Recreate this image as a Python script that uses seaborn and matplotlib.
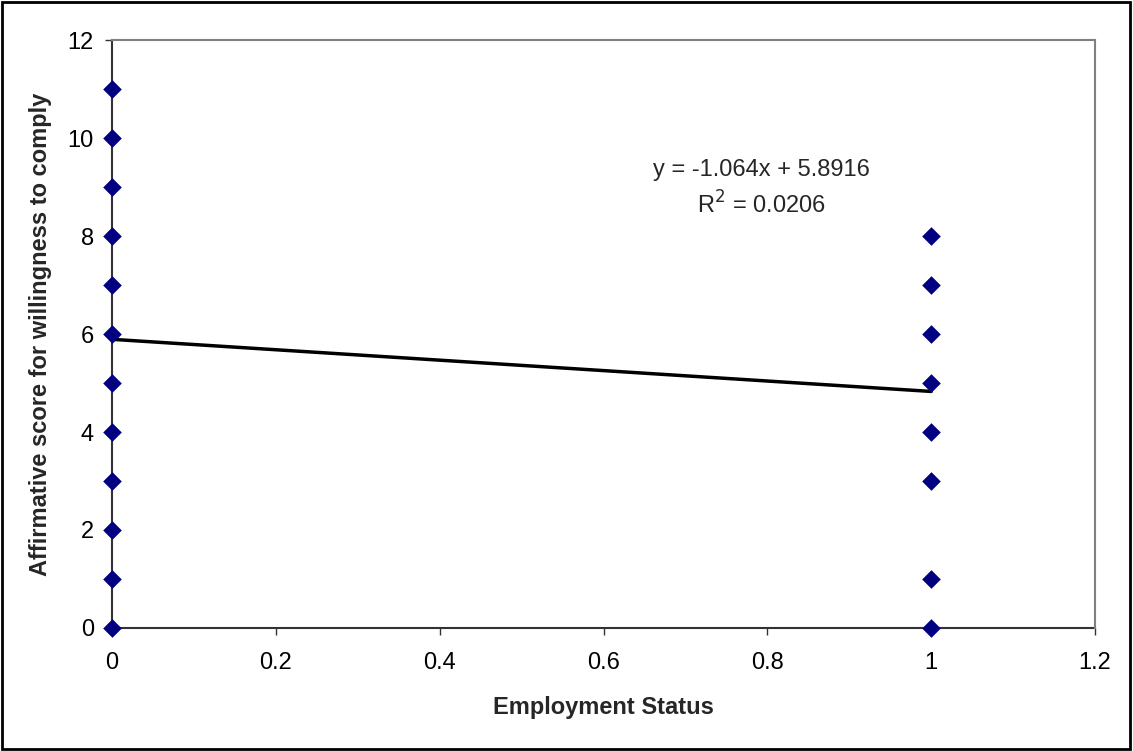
import matplotlib
matplotlib.use("Agg")
import matplotlib.pyplot as plt
import seaborn as sns
import pandas as pd
import numpy as np
from matplotlib.patches import Rectangle

# data
x_unemployed = [0] * 12
y_unemployed = [0, 1, 2, 3, 4, 5, 6, 7, 8, 9, 10, 11]
x_employed = [1] * 8
y_employed = [0, 1, 3, 4, 5, 6, 7, 8]
slope = -1.064
intercept = 5.8916
r_squared = 0.0206
trend_x = [0, 1]
x_ticks = [0, 0.2, 0.4, 0.6, 0.8, 1, 1.2]
x_tick_labels = ["0", "0.2", "0.4", "0.6", "0.8", "1", "1.2"]
y_ticks = [0, 2, 4, 6, 8, 10, 12]

sns.set_style("white")
plt.rcParams['font.family'] = ['Liberation Sans', 'DejaVu Sans']

df = pd.DataFrame({
    "x": x_unemployed + x_employed,
    "y": y_unemployed + y_employed,
})
trend_df = pd.DataFrame({"x": trend_x,
                         "y": [slope * v + intercept for v in trend_x]})

fig = plt.figure(figsize=(11.33, 7.51), dpi=100)
ax = fig.add_axes([0.0989, 0.1638, 0.9665 - 0.0989, 0.9467 - 0.1638])

sns.lineplot(data=trend_df, x="x", y="y", ax=ax, color="black", linewidth=2.5,
             zorder=2)
sns.scatterplot(data=df, x="x", y="y", ax=ax, marker="D", s=90,
                color="#000080", edgecolor="#000080", linewidth=0, zorder=3,
                clip_on=False)

ax.set_xlim(0, 1.2)
ax.set_ylim(0, 12)
ax.set_xticks(x_ticks)
ax.set_xticklabels(x_tick_labels)
ax.set_yticks(y_ticks)
ax.tick_params(axis="both", direction="out", length=5, width=1, color="#333333",
               labelsize=17, labelcolor="black", bottom=True, left=True)
ax.tick_params(axis="x", pad=12)
ax.tick_params(axis="y", pad=8)

for side in ["left", "bottom"]:
    ax.spines[side].set_color("#333333")
    ax.spines[side].set_linewidth(1.5)
    ax.spines[side].set_zorder(1)
for side in ["top", "right"]:
    ax.spines[side].set_color("#808080")
    ax.spines[side].set_linewidth(1.5)

ax.set_xlabel("Employment Status", fontsize=17, fontweight="bold", labelpad=16)
ax.set_ylabel("Affirmative score for willingness to comply", fontsize=17,
              fontweight="bold", labelpad=11)

ax.text(0.793, 9.35, f"y = {slope}x + {intercept}", fontsize=17, ha="center",
        va="center")
ax.text(0.793, 8.63, f"R$^2$ = {r_squared}", fontsize=17, ha="center",
        va="center")

fig.add_artist(Rectangle((0.002, 0.003), 0.995, 0.994, transform=fig.transFigure,
                         fill=False, edgecolor="black", linewidth=2))

fig.savefig("out.png", dpi=100, facecolor="white")
